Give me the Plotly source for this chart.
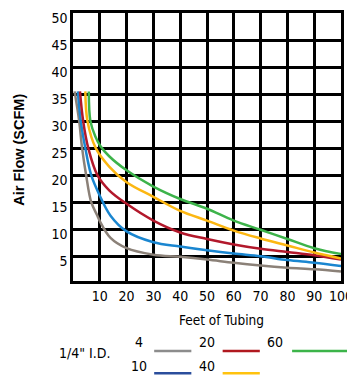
import plotly.graph_objects as go

# ---- data ----
psi_labels = ["4", "10", "20", "40", "60"]

x_4 = [0.6, 2.3, 3.4, 4.9, 6.8, 9.1, 10, 14, 20, 30, 40, 50, 60, 70, 80, 90, 100]
y_4 = [35.5, 30, 25, 20, 15, 12.5, 11.5, 8.4, 6.5, 5.3, 4.9, 4.4, 3.8, 3.3, 2.9, 2.6, 2.2]

x_10 = [1.8, 2.9, 4.6, 6.8, 10, 14, 20, 30, 40, 50, 60, 70, 80, 90, 100]
y_10 = [35.5, 30, 25, 20, 16.2, 12.5, 9.6, 7.6, 6.8, 6.1, 5.5, 5.0, 4.3, 3.8, 3.2]

x_20 = [2.6, 3.8, 5.7, 9.1, 13.5, 20, 30, 40, 50, 60, 70, 80, 90, 100]
y_20 = [35.5, 30, 25, 20, 17.2, 14.7, 11.6, 9.4, 8.2, 7.2, 6.4, 5.8, 5.2, 4.4]

x_40 = [4.6, 5.4, 8.5, 13.5, 20, 30, 40, 50, 60, 70, 80, 90, 100]
y_40 = [35.5, 30, 25, 21.6, 18.7, 16.0, 13.4, 11.6, 9.75, 8.3, 7.0, 5.7, 4.6]

x_60 = [5.9, 6.5, 8.3, 10.2, 13.5, 20, 30, 40, 50, 60, 70, 80, 90, 100]
y_60 = [35.5, 30, 27.2, 25.4, 23.5, 20.9, 17.9, 15.6, 13.8, 11.6, 9.9, 8.2, 6.5, 5.4]

x_ticks = [10, 20, 30, 40, 50, 60, 70, 80, 90, 100]
y_ticks = [5, 10, 15, 20, 25, 30, 35, 40, 45, 50]

series = [
    ("4", x_4, y_4, "#8b8178"),
    ("10", x_10, y_10, "#1a86d0"),
    ("20", x_20, y_20, "#b2182b"),
    ("40", x_40, y_40, "#fcb712"),
    ("60", x_60, y_60, "#3db34a"),
]

FONT = "Liberation Sans Narrow, DejaVu Sans Condensed, Roboto, sans-serif"

fig = go.Figure()
for name, xs, ys, col in series:
    fig.add_trace(go.Scatter(
        x=xs, y=ys, mode="lines", name=name,
        line=dict(color=col, width=2.5, shape="spline", smoothing=1.0),
        showlegend=False, hoverinfo="skip",
    ))

# the page body adds an 8px margin; place the figure so the plot lands
# on the target screen pixels
OFF = 8
SW, SH = 355, 377               # screen size
PL, PR, PT, PB = 73, 347, 10, 281  # plot area in screen pixels
W, H = SW - OFF, SH - OFF
L, T = PL - OFF, PT - OFF
R = W - (PR - OFF)
B = H - (PB - OFF)
pw, ph = PR - PL, PB - PT


def px(xp):
    return (xp - PL) / pw


def py(yp):
    return (PB - yp) / ph


fig.update_layout(
    width=W, height=H,
    margin=dict(l=L, r=R, t=T, b=B),
    paper_bgcolor="white", plot_bgcolor="white",
    font=dict(family=FONT, size=13, color="black"),
    showlegend=False,
)
fig.update_xaxes(
    range=[0, 100], tickvals=x_ticks, ticktext=[str(v) for v in x_ticks],
    showgrid=True, gridcolor="black", gridwidth=2.5,
    showline=True, linecolor="black", linewidth=2.5, mirror=True,
    zeroline=False, ticks="", tickfont=dict(size=14),
    ticklabeloverflow="allow",
)
fig.update_yaxes(
    range=[0.43, 50], tickvals=y_ticks, ticktext=[str(v) for v in y_ticks],
    showgrid=True, gridcolor="black", gridwidth=2.5,
    showline=True, linecolor="black", linewidth=2.5, mirror=True,
    zeroline=False, ticks="", tickfont=dict(size=14),
    ticklabelshift=5, ticklabeloverflow="allow",
)

# axis titles
fig.add_annotation(text="<b>Air Flow (SCFM)</b>", xref="paper", yref="paper",
                   x=px(18), y=py(148), textangle=-90, showarrow=False,
                   font=dict(family="Liberation Sans, Arial, sans-serif", size=14.5),
                   xanchor="center", yanchor="middle")
fig.add_annotation(text="Feet of Tubing", xref="paper", yref="paper",
                   x=px(225), y=py(320), showarrow=False,
                   font=dict(size=13.5), xanchor="center", yanchor="middle")

# custom legend
fig.add_annotation(text='1/4" I.D.', xref="paper", yref="paper",
                   x=px(85), y=py(354), showarrow=False, font=dict(size=14),
                   xanchor="center", yanchor="middle")
legend_items = [
    ("4", 140, 343, 156, 194, 351.7, "#8c8c8c"),
    ("10", 140, 367, 156, 194, 374.3, "#2b4e9c"),
    ("20", 210, 343, 226, 264, 351.7, "#b0181f"),
    ("40", 210, 367, 226, 264, 374.3, "#ffc20e"),
    ("60", 280, 343, 297, 355, 351.7, "#3cb44a"),
]
for lab, tx, ty, x0, x1, ly, col in legend_items:
    fig.add_annotation(text=lab, xref="paper", yref="paper", x=px(tx), y=py(ty),
                       showarrow=False, font=dict(size=14),
                       xanchor="center", yanchor="middle")
    fig.add_shape(type="line", xref="paper", yref="paper",
                  x0=px(x0), x1=px(x1), y0=py(ly), y1=py(ly),
                  line=dict(color=col, width=2.5))

fig.write_html("out.html")
